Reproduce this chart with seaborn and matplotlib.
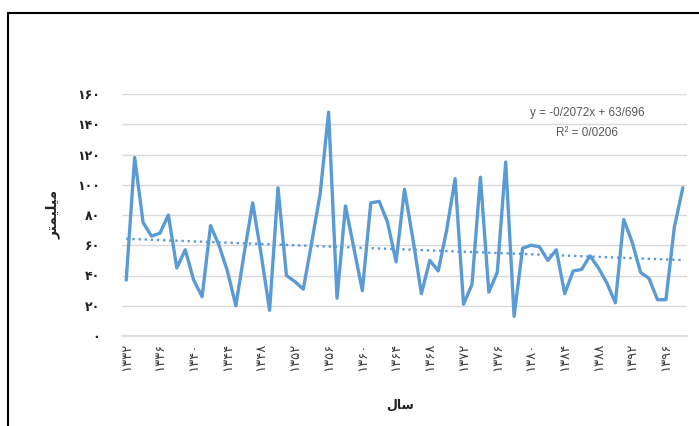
import numpy as np
import pandas as pd
import matplotlib
matplotlib.use("Agg")
import matplotlib.pyplot as plt
import seaborn as sns
from matplotlib.patches import Rectangle

years = list(range(1332, 1399))
rainfall = [37, 118, 75, 66, 68, 80, 45, 57, 37, 26,
            73, 60, 43, 20, 55, 88, 54, 17, 98, 40,
            36, 31, 62, 94, 148, 25, 86, 58, 30, 88,
            89, 75, 49, 97, 64, 28, 50, 43, 70, 104,
            21, 34, 105, 29, 42, 115, 13, 58, 60, 59,
            50, 57, 28, 43, 44, 53, 45, 35, 22, 77,
            62, 42, 38, 24, 24, 72, 98]
y_ticks = [0, 20, 40, 60, 80, 100, 120, 140, 160]
x_label = "\uFEDD\uFE8E\uFEB3"                      # سال (visual order)
y_label = "\uFEAE\uFE98\uFEE4\uFEF4\uFEE0\uFEF4\uFEE3"  # میلیمتر (visual order)
eq_text = "y = -0/2072x + 63/696"
r2_text = "R\u00b2 = 0/0206"

FA = str.maketrans("0123456789", "۰۱۲۳۴۵۶۷۸۹")
def fa(n):
    return str(n).translate(FA)

df = pd.DataFrame({"idx": np.arange(len(years)), "year": years, "rain": rainfall})

sns.set_theme(style="white")
plt.rcParams["font.family"] = ["DejaVu Sans"]

W, H = 699, 426
fig = plt.figure(figsize=(W / 100, H / 100), dpi=100)
ax = fig.add_axes([122 / W, 1 - 336 / H, (687 - 122) / W, (336 - 94) / H])

blue = "#5B9BD5"
sns.lineplot(data=df, x="idx", y="rain", color=blue, lw=2.4, ax=ax, zorder=3)
sns.regplot(data=df, x="idx", y="rain", scatter=False, ci=None, ax=ax,
            line_kws=dict(ls=(0, (1, 1.6)), lw=1.7, color=blue, zorder=2))

ax.set_xlim(-0.5, len(years) - 0.5)
ax.set_ylim(0, 160)
xt = list(range(0, len(years), 4))
ax.set_xticks(xt)
ax.set_xticklabels([fa(years[i]) for i in xt], rotation=90, fontsize=9.5, color="#404040")
ax.set_yticks(y_ticks)
ax.set_yticklabels([fa(v) for v in y_ticks], fontsize=9, color="#222222", fontweight="bold")
ax.tick_params(axis="y", length=0, pad=16)
ax.tick_params(axis="x", length=0, pad=5)
ax.grid(axis="y", color="#d9d9d9", lw=1)
ax.set_axisbelow(True)
for s in ["top", "right", "left"]:
    ax.spines[s].set_visible(False)
ax.spines["bottom"].set_color("#d9d9d9")
ax.set_xlabel("")
ax.set_ylabel("")

fig.text(400 / W, 1 - 405 / H, x_label, ha="center", va="center", fontsize=9, fontweight="bold", color="#222222")
fig.text(53 / W, 1 - 214 / H, y_label, ha="center", va="center", rotation=90, fontsize=10, fontweight="bold", color="#222222")

fig.text(587 / W, 1 - 113 / H, eq_text, ha="center", va="center", fontsize=8.5, color="#595959", family=["Liberation Sans"])
fig.text(587 / W, 1 - 133 / H, r2_text, ha="center", va="center", fontsize=8.5, color="#595959", family=["Liberation Sans"])

fig.patches.append(Rectangle((8 / W, -0.1), 1.2, 1.1 - 13 / H, transform=fig.transFigure,
                             fill=False, edgecolor="black", lw=1.5, figure=fig))

fig.savefig("out.png", dpi=100, facecolor="white")
